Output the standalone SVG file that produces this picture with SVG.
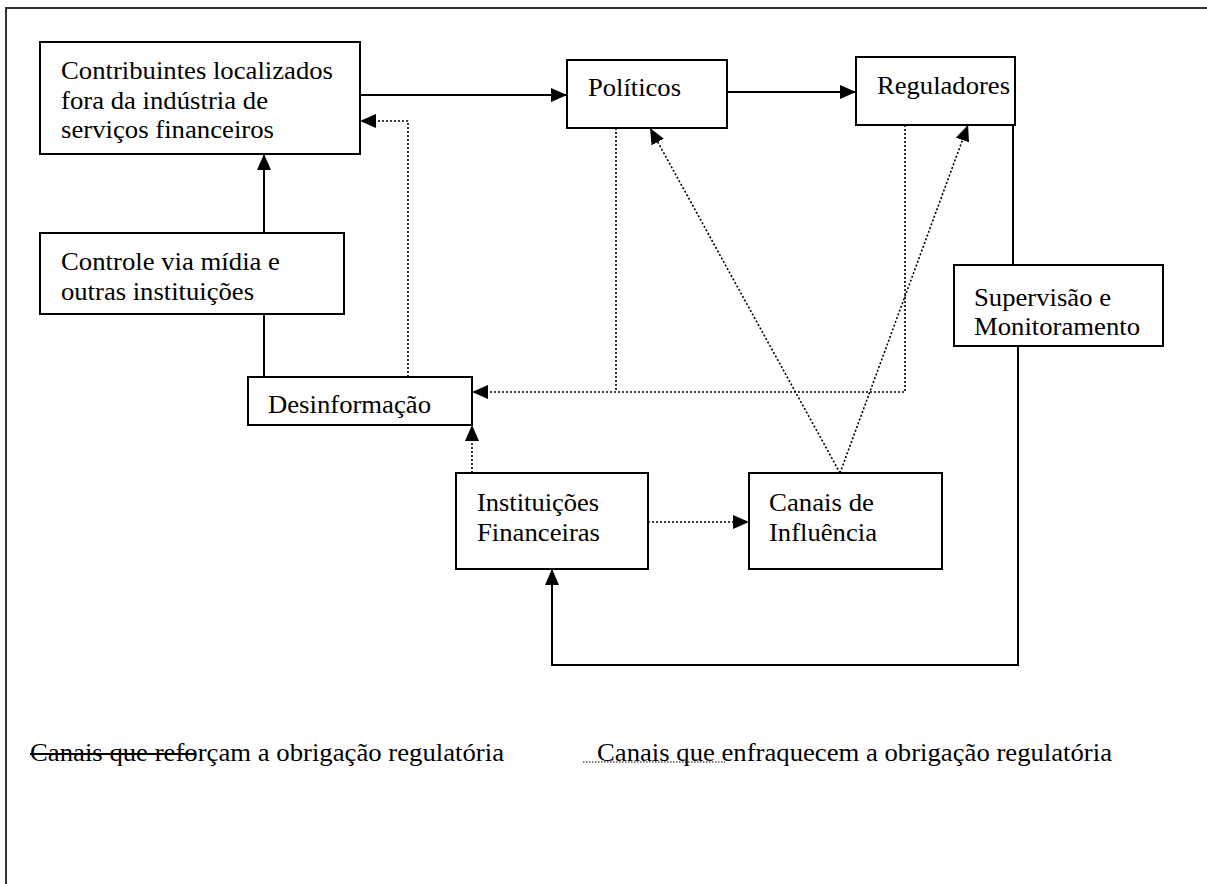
<svg xmlns="http://www.w3.org/2000/svg" width="1207" height="884" viewBox="0 0 1207 884">
<style>
.box{fill:#fff;stroke:#000;stroke-width:2}
.t{font-family:"Liberation Serif","Times New Roman",serif;font-size:26px;fill:#000}
.solid{fill:none;stroke:#000;stroke-width:2}
.dot{fill:none;stroke:#000;stroke-width:1.6;stroke-dasharray:2 2}
</style>
<defs>
<marker id="ah" markerUnits="userSpaceOnUse" markerWidth="16" markerHeight="14" viewBox="0 0 16 14" refX="16" refY="7" orient="auto">
<path d="M0,0 L16,7 L0,14 Z" fill="#000"/>
</marker>
</defs>
<path d="M6,884 V8 H1207" fill="none" stroke="#333" stroke-width="2"/>
<g id="connectors">
<path class="solid" d="M360,95 H567" marker-end="url(#ah)"/>
<path class="solid" d="M727,92 H856" marker-end="url(#ah)"/>
<path class="solid" d="M1013,125 V265"/>
<path class="solid" d="M1018,346 V665 H552 V569" marker-end="url(#ah)"/>
<path class="solid" d="M264,233 V154" marker-end="url(#ah)"/>
<path class="solid" d="M264,377 V314"/>
<path class="dot" d="M408,377 V121 H360" marker-end="url(#ah)"/>
<path class="dot" d="M472,473 V425" marker-end="url(#ah)"/>
<path class="dot" d="M648,522 H749" marker-end="url(#ah)"/>
<path class="dot" d="M840,473 L650,128" marker-end="url(#ah)"/>
<path class="dot" d="M840,473 L968,125" marker-end="url(#ah)"/>
<path class="dot" d="M616,128 V392"/>
<path class="dot" d="M905,125 V392 H472" marker-end="url(#ah)"/>
</g>
<g id="contribuintes">
<rect class="box" x="40" y="42" width="320" height="112"/>
<text class="t" x="61" y="79" textLength="272" lengthAdjust="spacingAndGlyphs">Contribuintes localizados</text>
<text class="t" x="61" y="109" textLength="207" lengthAdjust="spacingAndGlyphs">fora da indústria de</text>
<text class="t" x="61" y="138" textLength="213" lengthAdjust="spacingAndGlyphs">serviços financeiros</text>
</g>
<g id="politicos">
<rect class="box" x="567" y="60" width="160" height="68"/>
<text class="t" x="588" y="96" textLength="93" lengthAdjust="spacingAndGlyphs">Políticos</text>
</g>
<g id="reguladores">
<rect class="box" x="856" y="57" width="159" height="68"/>
<text class="t" x="877" y="94" textLength="133" lengthAdjust="spacingAndGlyphs">Reguladores</text>
</g>
<g id="controle">
<rect class="box" x="40" y="233" width="304" height="81"/>
<text class="t" x="61" y="270" textLength="219" lengthAdjust="spacingAndGlyphs">Controle via mídia e</text>
<text class="t" x="61" y="300" textLength="193" lengthAdjust="spacingAndGlyphs">outras instituições</text>
</g>
<g id="supervisao">
<rect class="box" x="954" y="265" width="209" height="81"/>
<text class="t" x="974" y="306" textLength="137" lengthAdjust="spacingAndGlyphs">Supervisão e</text>
<text class="t" x="974" y="335" textLength="166" lengthAdjust="spacingAndGlyphs">Monitoramento</text>
</g>
<g id="desinformacao">
<rect class="box" x="248" y="377" width="224" height="48"/>
<text class="t" x="268" y="413" textLength="163" lengthAdjust="spacingAndGlyphs">Desinformação</text>
</g>
<g id="instituicoes">
<rect class="box" x="456" y="473" width="192" height="96"/>
<text class="t" x="477" y="511" textLength="122" lengthAdjust="spacingAndGlyphs">Instituições</text>
<text class="t" x="477" y="541" textLength="123" lengthAdjust="spacingAndGlyphs">Financeiras</text>
</g>
<g id="canais">
<rect class="box" x="749" y="473" width="193" height="96"/>
<text class="t" x="769" y="511" textLength="105" lengthAdjust="spacingAndGlyphs">Canais de</text>
<text class="t" x="769" y="541" textLength="108" lengthAdjust="spacingAndGlyphs">Influência</text>
</g>
<g id="legend">
<text class="t" x="30" y="761" textLength="474" lengthAdjust="spacingAndGlyphs">Canais que reforçam a obrigação regulatória</text>
<path class="solid" d="M30,754 H196"/>
<path fill="none" stroke="#000" stroke-width="1.2" stroke-dasharray="1.5 1.5" d="M583,762 H725"/>
<text class="t" x="597" y="761" textLength="515" lengthAdjust="spacingAndGlyphs">Canais que enfraquecem a obrigação regulatória</text>
</g>
</svg>
